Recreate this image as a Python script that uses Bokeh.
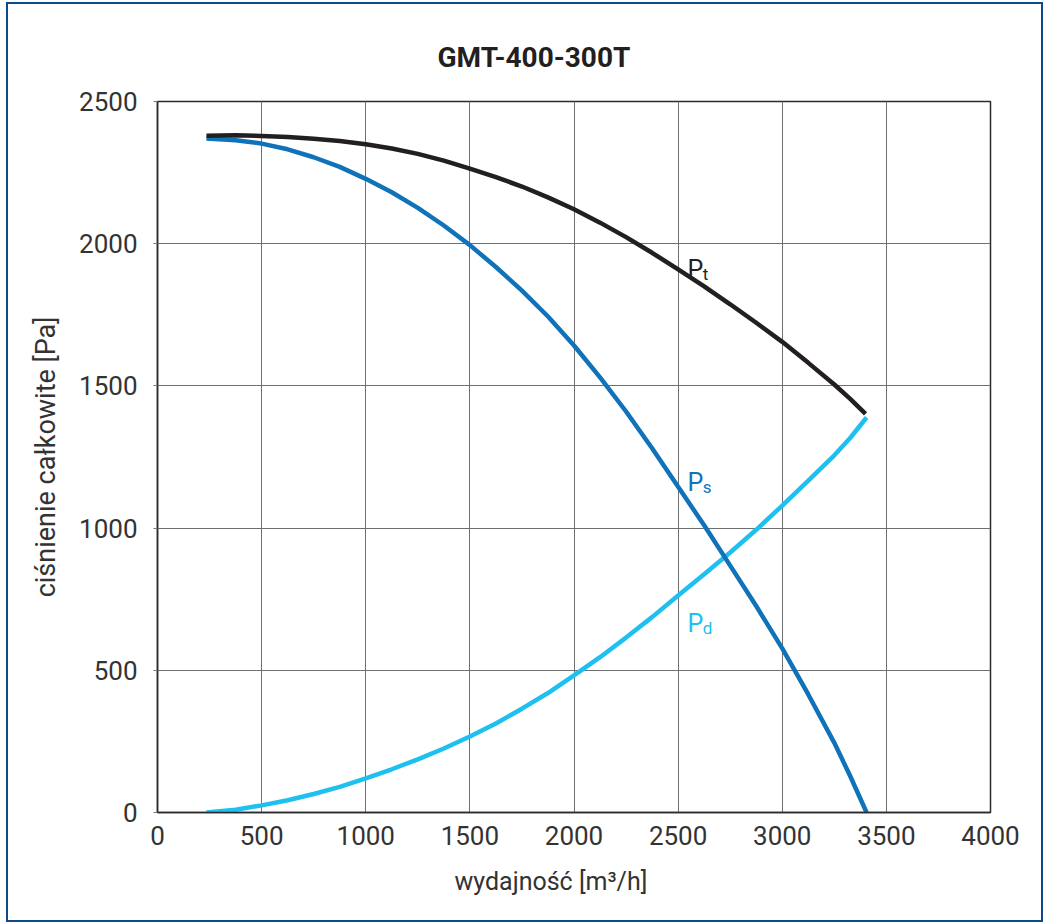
from bokeh.plotting import figure
from bokeh.embed import file_html
from bokeh.resources import INLINE
from bokeh.models import Range1d, FixedTicker, Title
from bokeh.core.properties import value

# Data
flow = [235, 375, 500, 625, 750, 875, 1000, 1125, 1250, 1375, 1500, 1625, 1750, 1875,
        2000, 2125, 2250, 2375, 2500, 2625, 2750, 2875, 3000, 3125, 3250, 3325, 3405]
p_total = [2380, 2381, 2379, 2375, 2369, 2361, 2350, 2335, 2316, 2292, 2264, 2234, 2201, 2163,
           2121, 2074, 2023, 1968, 1910, 1850, 1787, 1722, 1655, 1581, 1505, 1455, 1402]
p_static = [2370, 2364, 2352, 2332, 2304, 2270, 2228, 2181, 2126, 2064, 1995, 1918, 1835, 1744,
            1642, 1530, 1410, 1281, 1145, 1010, 868, 726, 577, 415, 245, 130, 0]
p_dynamic = [0, 10, 25, 43, 65, 90, 120, 152, 187, 225, 267, 313, 365, 420,
             482, 546, 615, 687, 763, 838, 914, 994, 1079, 1167, 1256, 1316, 1389]
x_ticks = [0, 500, 1000, 1500, 2000, 2500, 3000, 3500, 4000]
y_ticks = [0, 500, 1000, 1500, 2000, 2500]
title_text = "GMT-400-300T"
x_label = "wydajność [m³/h]"
y_label = "ciśnienie całkowite [Pa]"

FONT = "Roboto"
C_T = "#231f20"
C_S = "#1072b9"
C_D = "#1ec0f0"
TXT = "#333333"

p = figure(width=1033, height=916, output_backend="svg", toolbar_location=None,
           x_range=Range1d(0, 4000), y_range=Range1d(0, 2500),
           min_border_left=149, min_border_right=55, min_border_top=97, min_border_bottom=112)
p.styles = {"margin-left": "6px", "margin-top": "2px",
            "border": "2px solid #0b4a8c", "box-sizing": "content-box"}

p.title.text = title_text
p.title.align = "left"
p.title.offset = 280
p.title.text_font = FONT
p.title.text_font_size = "28px"
p.title.text_font_style = "bold"
p.title.text_color = "#231f20"
p.title.standoff = 55

p.outline_line_color = "#2a2a2a"
p.outline_line_width = 1.5
for ax in (p.xaxis[0], p.yaxis[0]):
    ax.axis_line_color = "#2a2a2a"
    ax.axis_line_width = 1.5
    ax.minor_tick_line_color = None
    ax.major_tick_in = 0
    ax.major_label_text_font = FONT
    ax.major_label_text_font_size = "26px"
    ax.major_label_text_color = TXT
    ax.axis_label_text_font = FONT
    ax.axis_label_text_font_size = "27px"
    ax.axis_label_text_color = TXT
    ax.axis_label_text_font_style = "normal"
p.xaxis.ticker = FixedTicker(ticks=x_ticks)
p.yaxis.ticker = FixedTicker(ticks=y_ticks)
p.xaxis.major_tick_out = 0
p.yaxis.major_tick_out = 4
p.yaxis.major_tick_line_color = "#777777"
p.xaxis.major_label_standoff = 13
p.yaxis.major_label_standoff = 16
p.yaxis.axis_label = y_label
p.yaxis.axis_label_standoff = 14

p.add_layout(Title(text=x_label, align="left", offset=297, text_font=FONT,
                   text_font_size="25px", text_font_style="normal", text_color=TXT,
                   standoff=35), "below")

p.grid.grid_line_color = "#6f6f6f"
p.grid.grid_line_width = 1
p.grid.grid_line_alpha = 1.0
p.xgrid.ticker = FixedTicker(ticks=x_ticks)
p.ygrid.ticker = FixedTicker(ticks=y_ticks)

p.line(flow, p_dynamic, line_color=C_D, line_width=4.5)
p.line(flow, p_static, line_color=C_S, line_width=4.5)
p.line(flow[:-1] + [3400], p_total, line_color=C_T, line_width=4.5)

# curve labels: P with subscript
for base_y, sub, col, sub_y in [(1909, "t", C_T, 1892), (1160, "s", C_S, 1143), (664, "d", C_D, 650)]:
    p.text(x=[2545], y=[base_y], text=["P"], text_color=col, text_font=value(FONT),
           text_font_size="25px", text_align="left", text_baseline="alphabetic")
    p.text(x=[2618], y=[sub_y], text=[sub], text_color=col, text_font=value(FONT),
           text_font_size="17px", text_align="left", text_baseline="alphabetic")

open("out.html", "w").write(file_html(p, INLINE))
